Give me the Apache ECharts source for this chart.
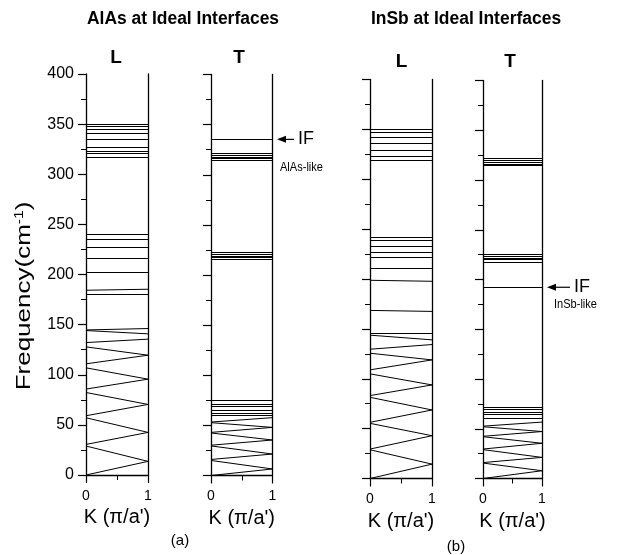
<!DOCTYPE html>
<html><head><meta charset="utf-8">
<script src="https://cdn.jsdelivr.net/npm/echarts@6/dist/echarts.min.js"></script>
<style>html,body{margin:0;padding:0;background:#fff}#c{width:617px;height:555px}</style>
</head><body><div id="c"></div>
<script>
// ---------- data ----------
const yTickValues = [0, 50, 100, 150, 200, 250, 300, 350, 400];
const xTickLabels = ['0', '1'];
const panelLabels = ['L', 'T', 'L', 'T'];
const groupTitles = ['AlAs at Ideal Interfaces', 'InSb at Ideal Interfaces'];
const xName = "K (\u03c0/a')";

// each branch goes from (K=0, k0[i]) to (K=1, k1[i])
const alasL_k0 = [349.5, 348, 345, 340.5, 335, 327, 323, 321, 316.5, 240.5, 235, 227, 216, 202.5, 184.3, 180.6,
  144.7, 144.1, 132.1, 127.8, 110.9, 106.9, 85.7, 82.3, 59.1, 57.1, 30.5, 28.9, 0];
const alasL_k1 = [349.5, 348, 345, 340.5, 335, 327, 323, 321, 316.5, 240.5, 235, 227, 216, 202.5, 185.3, 180.6,
  146.1, 140.8, 135.5, 119.5, 119.5, 95.6, 95.6, 70.4, 70.4, 42.5, 42.5, 13.6, 13.6];

const alasT_k0 = [335.3, 321, 319.4, 317.4, 316, 314.7, 222.3, 220.6, 219, 217.3, 215.6,
  75, 70.7, 68.7, 64.7, 62.3, 60, 53.3, 52.7, 43, 42.4, 30.2, 29.5, 16, 15, 0];
const alasT_k1 = [335.3, 321, 319.4, 317.4, 316, 314.7, 222.3, 220.6, 219, 217.3, 215.6,
  75, 70.7, 68.7, 64.7, 62.3, 60, 57.7, 48, 48, 35.4, 35.4, 21.4, 21.4, 6.5, 6.5];

const insbL_k0 = [349.7, 347.3, 342, 336, 329.3, 323, 319, 242.3, 238.7, 233, 226.7, 222.3, 211, 198.7, 168.5,
  145.7, 143.7, 129.6, 125.6, 108.9, 104.9, 83.1, 81.4, 56.3, 55.3, 29.5, 28.8, 0];
const insbL_k1 = [349.7, 347.3, 342, 336, 329.3, 323, 319, 242.3, 238.7, 233, 226.7, 222.3, 211, 197.7, 167.5,
  145.7, 139, 134.3, 118.9, 118.9, 93.8, 93.8, 68.7, 68.7, 42.9, 42.9, 14.4, 14.4];

const insbT_k0 = [321.9, 320.3, 317.9, 315.9, 314.6, 224.9, 223.3, 221.6, 220, 217.6, 192.2,
  71.5, 69.1, 66.4, 64.1, 60.7, 52.6, 52, 42.4, 42, 29.6, 29, 16, 15.5, 0];
const insbT_k1 = [321.9, 320.3, 317.9, 315.9, 314.6, 224.9, 223.3, 221.6, 220, 217.6, 192.2,
  71.5, 69.1, 66.4, 64.1, 60.7, 56.7, 47.2, 47.2, 35.4, 35.4, 21.2, 21.2, 7.8, 7.8];

const ifValues = [335.3, 192.2];           // interface modes marked with arrows
const ifTexts = ['IF', 'IF'];
const ifNotes = ['AlAs-like', 'InSb-like'];

// ---------- layout ----------
const panels = [
  { k0: alasL_k0, k1: alasL_k1, grid: { left: 86, top: 74, width: 62, height: 401 } },
  { k0: alasT_k0, k1: alasT_k1, grid: { left: 211, top: 74.5, width: 61.5, height: 401 } },
  { k0: insbL_k0, k1: insbL_k1, grid: { left: 370, top: 79.5, width: 62, height: 399 } },
  { k0: insbT_k0, k1: insbT_k1, grid: { left: 483, top: 80.5, width: 59, height: 398 } }
];

const FONT = 'Liberation Sans, Arial, sans-serif';
const chart = echarts.init(document.getElementById('c'), null, { renderer: 'canvas' });

const grid = [], xAxis = [], yAxis = [], series = [];
panels.forEach((p, i) => {
  grid.push(Object.assign({ containLabel: false }, p.grid));
  xAxis.push({
    type: 'value', gridIndex: i, min: 0, max: 1, interval: 1,
    axisLine: { show: true, onZero: false, lineStyle: { color: '#000', width: 1.3 } },
    axisTick: { show: true, inside: false, length: 8, lineStyle: { color: '#000', width: 1.2 } },
    minorTick: { show: true, splitNumber: 2, length: 5, lineStyle: { color: '#000', width: 1 } },
    splitLine: { show: false }, minorSplitLine: { show: false },
    axisLabel: { show: true, color: '#000', fontSize: 14, fontFamily: FONT, margin: 14,
      formatter: v => xTickLabels[Math.round(v)] },
    name: xName, nameLocation: 'middle', nameGap: 32,
    nameTextStyle: { color: '#000', fontSize: 20, fontFamily: FONT }
  });
  yAxis.push({
    type: 'value', gridIndex: i, min: 0, max: 400, interval: 50, position: 'left',
    axisLine: { show: true, onZero: false, lineStyle: { color: '#000', width: 1.3 } },
    axisTick: { show: true, inside: false, length: 8, lineStyle: { color: '#000', width: 1.2 } },
    minorTick: { show: true, splitNumber: 2, length: 5, lineStyle: { color: '#000', width: 1 } },
    splitLine: { show: false }, minorSplitLine: { show: false },
    axisLabel: { show: i === 0, color: '#000', fontSize: 16, fontFamily: FONT, margin: 12,
      formatter: v => (yTickValues.indexOf(v) >= 0 ? String(v) : '') }
  });
  yAxis.push({
    type: 'value', gridIndex: i, min: 0, max: 400, position: 'right',
    axisLine: { show: true, onZero: false, lineStyle: { color: '#000', width: 1.3 } },
    axisTick: { show: false }, axisLabel: { show: false }, splitLine: { show: false }
  });
  series.push({
    type: 'lines', coordinateSystem: 'cartesian2d', xAxisIndex: i, yAxisIndex: 2 * i,
    silent: true, polyline: false,
    lineStyle: { color: '#000', width: 1, opacity: 1, curveness: 0 },
    data: p.k0.map((v, j) => ({ coords: [[0, v], [1, p.k1[j]]] }))
  });
});

chart.setOption({
  animation: false,
  backgroundColor: '#fff',
  grid, xAxis, yAxis, series
});

// ---------- annotations ----------
const gfx = [];
const txt = (x, y, text, size, opts, extra) => gfx.push(Object.assign({
  type: 'text', x, y,
  style: Object.assign({ text, fill: '#000', fontSize: size, fontFamily: FONT,
    textAlign: 'center', textVerticalAlign: 'middle' }, opts || {})
}, extra || {}));
txt(183, 19, groupTitles[0], 18, { fontWeight: 'bold' }, { scaleX: 0.97 });
txt(466, 19, groupTitles[1], 18, { fontWeight: 'bold' }, { scaleX: 0.97 });
const labelPos = [[116, 58], [239, 58], [401.5, 62], [510, 62]];
panelLabels.forEach((t, i) => txt(labelPos[i][0], labelPos[i][1], t, 19, { fontWeight: 'bold' }));
txt(180, 541, '(a)', 15);
txt(456, 547, '(b)', 15);

gfx.push({
  type: 'text', x: 24, y: 296, rotation: Math.PI / 2, scaleX: 1.3,
  style: {
    text: '{a|Frequency(cm}{s|-1}{a|)}', fill: '#000', textAlign: 'center', textVerticalAlign: 'middle',
    rich: {
      a: { fontSize: 20, fontFamily: FONT, fill: '#000' },
      s: { fontSize: 12, fontFamily: FONT, fill: '#000', verticalAlign: 'top', padding: [0, 0, 8, 0] }
    }
  }
});

// interface-mode arrows (grid 1 and grid 3)
[[1, 0, 277, 294, 306, 280, 28], [3, 1, 547, 570, 582, 554, 17]].forEach(([gi, k, tipX, endX, textX, noteX, noteDy]) => {
  const y = chart.convertToPixel({ xAxisIndex: gi, yAxisIndex: 2 * gi }, [1, ifValues[k]])[1];
  gfx.push({ type: 'line', shape: { x1: tipX + 6, y1: y, x2: endX, y2: y }, style: { stroke: '#000', lineWidth: 1.2 } });
  gfx.push({ type: 'polygon', shape: { points: [[tipX, y], [tipX + 9, y - 3.5], [tipX + 9, y + 3.5]] }, style: { fill: '#000' } });
  txt(textX, y, ifTexts[k], 18);
  gfx.push({ type: 'text', x: noteX, y: y + noteDy, scaleX: 0.85,
    style: { text: ifNotes[k], fill: '#000', fontSize: 13, fontFamily: FONT, textAlign: 'left', textVerticalAlign: 'middle' } });
});

chart.setOption({ graphic: gfx });
</script>
</body></html>
